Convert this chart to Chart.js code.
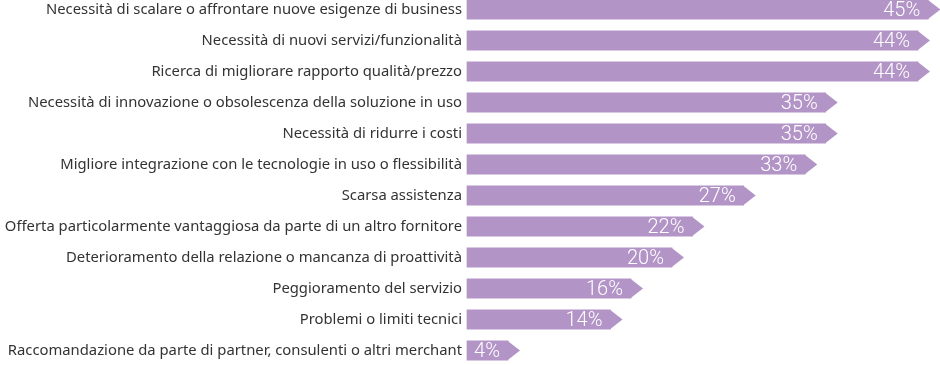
<!DOCTYPE html>
<html>
<head>
<meta charset="utf-8">
<script src="https://cdn.jsdelivr.net/npm/chart.js@4/dist/chart.umd.min.js"></script>
<style>
html,body{margin:0;padding:0;background:#fff;}
#wrap{position:relative;width:940px;height:365px;}
</style>
</head>
<body>
<div id="wrap"><canvas id="c"></canvas></div>
<script>
const categories = [
  "Necessità di scalare o affrontare nuove esigenze di business",
  "Necessità di nuovi servizi/funzionalità",
  "Ricerca di migliorare rapporto qualità/prezzo",
  "Necessità di innovazione o obsolescenza della soluzione in uso",
  "Necessità di ridurre i costi",
  "Migliore integrazione con le tecnologie in uso o flessibilità",
  "Scarsa assistenza",
  "Offerta particolarmente vantaggiosa da parte di un altro fornitore",
  "Deterioramento della relazione o mancanza di proattività",
  "Peggioramento del servizio",
  "Problemi o limiti tecnici",
  "Raccomandazione da parte di partner, consulenti o altri merchant"
];
const values = [45, 44, 44, 35, 35, 33, 27, 22, 20, 16, 14, 4];

const BAR_COLOR = '#b394c6';
const TIP = 12;

const arrowPlugin = {
  id: 'arrowPlugin',
  afterDatasetsDraw(chart) {
    const ctx = chart.ctx;
    const meta = chart.getDatasetMeta(0);
    ctx.save();
    meta.data.forEach((bar, i) => {
      const h = bar.height;
      const top = bar.y - h / 2, bottom = bar.y + h / 2;
      const x = bar.x;
      ctx.fillStyle = BAR_COLOR;
      ctx.beginPath();
      ctx.moveTo(x - 0.5, top);
      ctx.lineTo(x + TIP, bar.y);
      ctx.lineTo(x - 0.5, bottom);
      ctx.closePath();
      ctx.fill();
      ctx.fillStyle = '#ffffff';
      ctx.font = '300 20px Roboto';
      ctx.textAlign = 'right';
      ctx.textBaseline = 'middle';
      ctx.fillText(values[i] + '%', x - 8, bar.y + 1);
    });
    ctx.restore();
  }
};

new Chart(document.getElementById('c'), {
  type: 'bar',
  data: {
    labels: categories,
    datasets: [{
      data: values,
      backgroundColor: BAR_COLOR,
      borderWidth: 0,
      barThickness: 19.5,
      clip: false
    }]
  },
  options: {
    indexAxis: 'y',
    responsive: true,
    maintainAspectRatio: false,
    animation: false,
    layout: { padding: { top: 9.5, bottom: 14.5, left: 0, right: 0 } },
    plugins: { legend: { display: false }, tooltip: { enabled: false } },
    scales: {
      x: { display: false, min: 0, max: 46.15 },
      y: {
        offset: false,
        grid: { display: false, drawTicks: false, tickLength: 0 },
        border: { display: false },
        ticks: {
          color: '#333333',
          padding: 5,
          autoSkip: false,
          font: { family: 'Noto Sans', size: 14.8 }
        },
        afterFit(s) { s.width = 467; s.paddingTop = 0; s.paddingBottom = 0; }
      }
    }
  },
  plugins: [arrowPlugin]
});
</script>
</body>
</html>
